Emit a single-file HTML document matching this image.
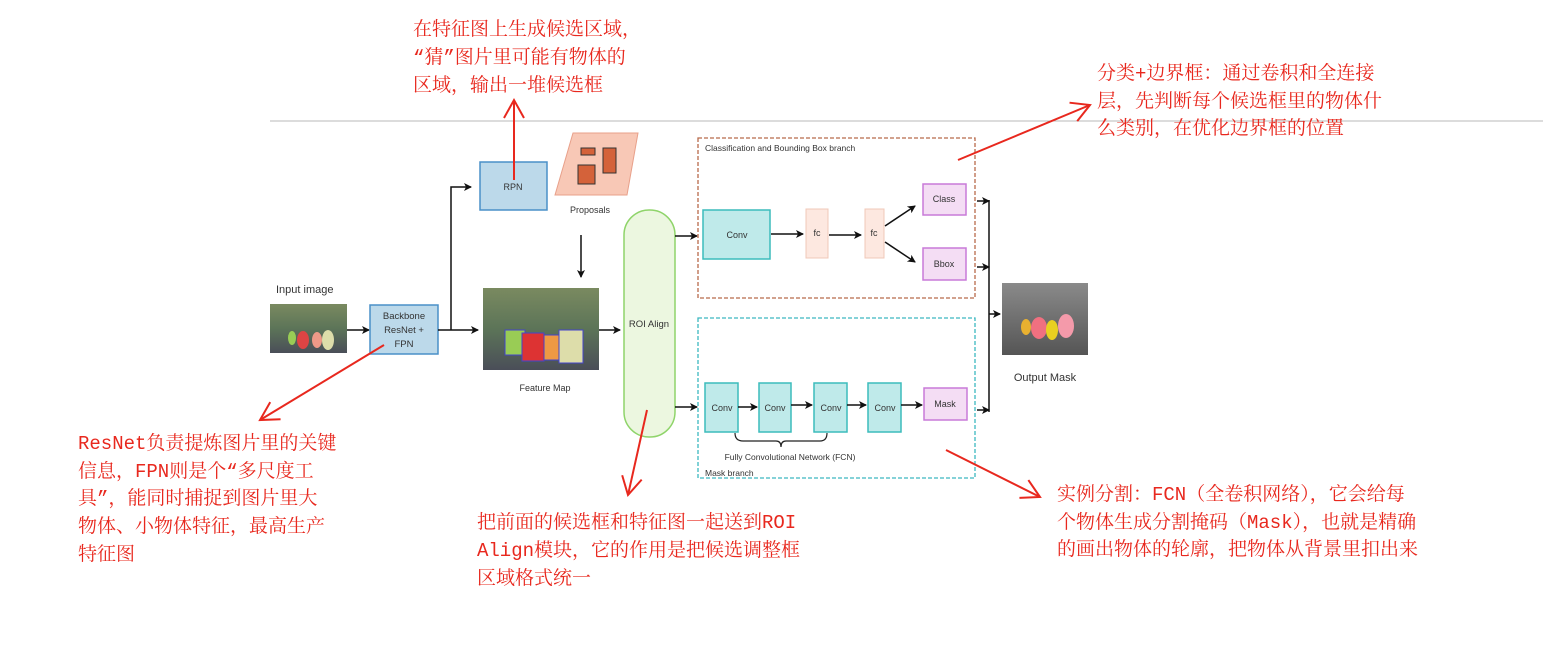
<!DOCTYPE html>
<html><head><meta charset="utf-8"><style>
html,body{margin:0;padding:0;background:#fff;}
svg{display:block;}
.d{font-family:"Liberation Sans",sans-serif;fill:#333;}
.r{font-family:"Liberation Mono","Noto Serif CJK SC",serif;fill:#e8281e;font-size:19px;}
</style></head><body>
<svg width="1543" height="647" viewBox="0 0 1543 647" xmlns="http://www.w3.org/2000/svg">
<defs>
<marker id="a" markerWidth="8" markerHeight="8" refX="7" refY="4" orient="auto" markerUnits="userSpaceOnUse"><path d="M0,0 L8,4 L0,8 L2,4z" fill="#111"/></marker>
<marker id="ra" markerWidth="30" markerHeight="30" refX="20" refY="15" orient="auto" markerUnits="userSpaceOnUse"><path d="M2,5 L20,15 L2,25" fill="none" stroke="#e8281e" stroke-width="2"/></marker>
<linearGradient id="img" x1="0" y1="0" x2="0" y2="1"><stop offset="0" stop-color="#7a8a60"/><stop offset="0.5" stop-color="#5c7458"/><stop offset="1" stop-color="#4a4e58"/></linearGradient>
<linearGradient id="gray" x1="0" y1="0" x2="0" y2="1"><stop offset="0" stop-color="#8a8a8a"/><stop offset="1" stop-color="#555"/></linearGradient>
</defs>
<line x1="270" y1="121" x2="1543" y2="121" stroke="#b8b8b8" stroke-width="1"/>

<text x="276" y="293" class="d" font-size="11">Input image</text>
<rect x="270" y="304" width="77" height="49" fill="url(#img)"/>
<ellipse cx="303" cy="340" rx="6" ry="9" fill="#d44"/><ellipse cx="317" cy="340" rx="5" ry="8" fill="#e98"/><ellipse cx="328" cy="340" rx="6" ry="10" fill="#dda"/><ellipse cx="292" cy="338" rx="4" ry="7" fill="#9c5"/>
<line x1="347" y1="330" x2="369" y2="330" stroke="#111" stroke-width="1.5" marker-end="url(#a)"/>
<rect x="370" y="305" width="68" height="49" fill="#bcd9ea" stroke="#4a90c8" stroke-width="1.5"/>
<text x="404" y="319" class="d" font-size="9.5" text-anchor="middle">Backbone</text>
<text x="404" y="333" class="d" font-size="9.5" text-anchor="middle">ResNet +</text>
<text x="404" y="347" class="d" font-size="9.5" text-anchor="middle">FPN</text>
<line x1="438" y1="330" x2="478" y2="330" stroke="#111" stroke-width="1.5" marker-end="url(#a)"/>
<polyline points="451,330 451,187 471,187" fill="none" stroke="#111" stroke-width="1.5" marker-end="url(#a)"/>
<rect x="480" y="162" width="67" height="48" fill="#bcd9ea" stroke="#4a90c8" stroke-width="1.5"/>
<text x="513" y="190" class="d" font-size="9" text-anchor="middle">RPN</text>
<polygon points="573,133 638,133 627,195 555,195" fill="#f8c8b6" stroke="#e8a08a"/>
<rect x="581" y="148" width="14" height="7" fill="#d4623a" stroke="#333"/>
<rect x="603" y="148" width="13" height="25" fill="#d4623a" stroke="#333"/>
<rect x="578" y="165" width="17" height="19" fill="#d4623a" stroke="#333"/>
<text x="590" y="213" class="d" font-size="9" text-anchor="middle">Proposals</text>
<line x1="581" y1="235" x2="581" y2="277" stroke="#111" stroke-width="1.5" marker-end="url(#a)"/>
<rect x="483" y="288" width="116" height="82" fill="url(#img)"/>
<rect x="505" y="330" width="20" height="25" fill="#9c5" stroke="#44c"/><rect x="522" y="333" width="22" height="28" fill="#d33" stroke="#44c"/><rect x="544" y="335" width="15" height="25" fill="#e94" stroke="#44c"/><rect x="559" y="330" width="24" height="33" fill="#dda" stroke="#44c"/>
<text x="545" y="391" class="d" font-size="9" text-anchor="middle">Feature Map</text>
<line x1="599" y1="330" x2="620" y2="330" stroke="#111" stroke-width="1.5" marker-end="url(#a)"/>
<rect x="624" y="210" width="51" height="227" rx="25" fill="#ecf7e0" stroke="#8fd46a" stroke-width="1.5"/>
<text x="649" y="327" class="d" font-size="9.5" text-anchor="middle">ROI Align</text>
<line x1="675" y1="236" x2="697" y2="236" stroke="#111" stroke-width="1.5" marker-end="url(#a)"/>
<line x1="675" y1="407" x2="697" y2="407" stroke="#111" stroke-width="1.5" marker-end="url(#a)"/>

<rect x="698" y="138" width="277" height="160" fill="none" stroke="#b86a4a" stroke-width="1.3" stroke-dasharray="4,2"/>
<text x="705" y="151" class="d" font-size="8.5">Classification and Bounding Box branch</text>
<rect x="703" y="210" width="67" height="49" fill="#bfeaea" stroke="#3cbcbc" stroke-width="1.5"/>
<text x="737" y="238" class="d" font-size="9" text-anchor="middle">Conv</text>
<line x1="771" y1="234" x2="803" y2="234" stroke="#111" stroke-width="1.5" marker-end="url(#a)"/>
<rect x="806" y="209" width="22" height="49" fill="#fde8e0" stroke="#f0c8b8"/>
<text x="817" y="236" class="d" font-size="9" text-anchor="middle">fc</text>
<line x1="829" y1="235" x2="861" y2="235" stroke="#111" stroke-width="1.5" marker-end="url(#a)"/>
<rect x="865" y="209" width="19" height="49" fill="#fde8e0" stroke="#f0c8b8"/>
<text x="874" y="236" class="d" font-size="9" text-anchor="middle">fc</text>
<line x1="885" y1="226" x2="915" y2="206" stroke="#111" stroke-width="1.5" marker-end="url(#a)"/>
<line x1="885" y1="242" x2="915" y2="262" stroke="#111" stroke-width="1.5" marker-end="url(#a)"/>
<rect x="923" y="184" width="43" height="31" fill="#f4ddf4" stroke="#c87ad8" stroke-width="1.5"/>
<text x="944" y="202" class="d" font-size="9" text-anchor="middle">Class</text>
<rect x="923" y="248" width="43" height="32" fill="#f4ddf4" stroke="#c87ad8" stroke-width="1.5"/>
<text x="944" y="267" class="d" font-size="9" text-anchor="middle">Bbox</text>

<rect x="698" y="318" width="277" height="160" fill="none" stroke="#3cb8c0" stroke-width="1.3" stroke-dasharray="4,2"/>
<rect x="705" y="383" width="33" height="49" fill="#bfeaea" stroke="#3cbcbc" stroke-width="1.5"/>
<rect x="759" y="383" width="32" height="49" fill="#bfeaea" stroke="#3cbcbc" stroke-width="1.5"/>
<rect x="814" y="383" width="33" height="49" fill="#bfeaea" stroke="#3cbcbc" stroke-width="1.5"/>
<rect x="868" y="383" width="33" height="49" fill="#bfeaea" stroke="#3cbcbc" stroke-width="1.5"/>
<text x="722" y="411" class="d" font-size="9" text-anchor="middle">Conv</text>
<text x="775" y="411" class="d" font-size="9" text-anchor="middle">Conv</text>
<text x="831" y="411" class="d" font-size="9" text-anchor="middle">Conv</text>
<text x="885" y="411" class="d" font-size="9" text-anchor="middle">Conv</text>
<line x1="738" y1="407" x2="757" y2="407" stroke="#111" stroke-width="1.5" marker-end="url(#a)"/>
<line x1="791" y1="405" x2="812" y2="405" stroke="#111" stroke-width="1.5" marker-end="url(#a)"/>
<line x1="847" y1="405" x2="866" y2="405" stroke="#111" stroke-width="1.5" marker-end="url(#a)"/>
<line x1="901" y1="405" x2="922" y2="405" stroke="#111" stroke-width="1.5" marker-end="url(#a)"/>
<rect x="924" y="388" width="43" height="32" fill="#f4ddf4" stroke="#c87ad8" stroke-width="1.5"/>
<text x="945" y="407" class="d" font-size="9" text-anchor="middle">Mask</text>
<path d="M735,433 Q735,441 743,441 L776,441 Q781,441 781,447 Q781,441 786,441 L820,441 Q827,441 827,433" fill="none" stroke="#222" stroke-width="1.2"/>
<text x="790" y="460" class="d" font-size="8.5" text-anchor="middle">Fully Convolutional Network (FCN)</text>
<text x="705" y="476" class="d" font-size="8.5">Mask branch</text>

<line x1="977" y1="201" x2="989" y2="201" stroke="#111" stroke-width="1.5" marker-end="url(#a)"/>
<line x1="977" y1="267" x2="989" y2="267" stroke="#111" stroke-width="1.5" marker-end="url(#a)"/>
<line x1="977" y1="410" x2="989" y2="410" stroke="#111" stroke-width="1.5" marker-end="url(#a)"/>
<line x1="989" y1="200" x2="989" y2="412" stroke="#111" stroke-width="1.5"/>
<line x1="989" y1="314" x2="1000" y2="314" stroke="#111" stroke-width="1.5" marker-end="url(#a)"/>
<rect x="1002" y="283" width="86" height="72" fill="url(#gray)"/>
<ellipse cx="1026" cy="327" rx="5" ry="8" fill="#e8b030"/><ellipse cx="1039" cy="328" rx="8" ry="11" fill="#f07080"/><ellipse cx="1052" cy="330" rx="6" ry="10" fill="#e8d020"/><ellipse cx="1066" cy="326" rx="8" ry="12" fill="#f49aaa"/>
<text x="1045" y="381" class="d" font-size="11" text-anchor="middle">Output Mask</text>

<g stroke="#e8281e" stroke-width="2" fill="none">
<line x1="514" y1="180" x2="514" y2="100" marker-end="url(#ra)"/>
<line x1="958" y1="160" x2="1090" y2="105" marker-end="url(#ra)"/>
<line x1="384" y1="345" x2="260" y2="420" marker-end="url(#ra)"/>
<line x1="647" y1="410" x2="628" y2="495" marker-end="url(#ra)"/>
<line x1="946" y1="450" x2="1040" y2="497" marker-end="url(#ra)"/>
</g>
<g class="r">
<text x="413" y="35">在特征图上生成候选区域，</text>
<text x="413" y="63">“猜”图片里可能有物体的</text>
<text x="413" y="91">区域，输出一堆候选框</text>
<text x="1097" y="79">分类+边界框：通过卷积和全连接</text>
<text x="1097" y="107">层，先判断每个候选框里的物体什</text>
<text x="1097" y="134">么类别，在优化边界框的位置</text>
<text x="78" y="449">ResNet负责提炼图片里的关键</text>
<text x="78" y="477">信息，FPN则是个“多尺度工</text>
<text x="78" y="504">具”，能同时捕捉到图片里大</text>
<text x="78" y="532">物体、小物体特征，最高生产</text>
<text x="78" y="560">特征图</text>
<text x="477" y="528">把前面的候选框和特征图一起送到ROI</text>
<text x="477" y="556">Align模块，它的作用是把候选调整框</text>
<text x="477" y="584">区域格式统一</text>
<text x="1057" y="500">实例分割：FCN（全卷积网络），它会给每</text>
<text x="1057" y="528">个物体生成分割掩码（Mask），也就是精确</text>
<text x="1057" y="555">的画出物体的轮廓，把物体从背景里扣出来</text>
</g>
</svg>
</body></html>
